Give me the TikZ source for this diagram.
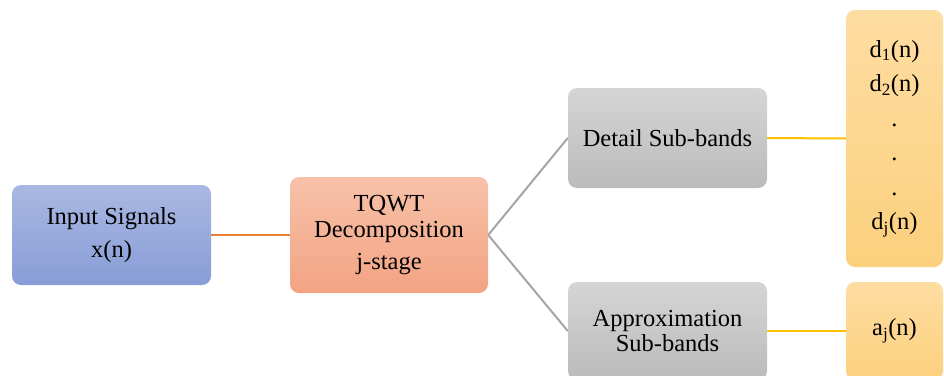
\documentclass[tikz,border=0pt]{standalone}
\usepackage{fontspec}
\setmainfont{Liberation Serif}
\usetikzlibrary{backgrounds}
\definecolor{bluetop}{HTML}{A9B8E2}
\definecolor{bluebot}{HTML}{889DD7}
\definecolor{orgtop}{HTML}{F7C2A9}
\definecolor{orgbot}{HTML}{F3A383}
\definecolor{graytop}{HTML}{D5D5D5}
\definecolor{graybot}{HTML}{BBBBBB}
\definecolor{yeltop}{HTML}{FEDDA2}
\definecolor{yelbot}{HTML}{FCD07D}
\definecolor{orgline}{HTML}{ED7D31}
\definecolor{yelline}{HTML}{FFC000}
\definecolor{grayline}{HTML}{A5A5A5}
\tikzset{
  box/.style={rectangle, rounded corners=9pt, inner sep=0pt, align=center,
    font=\fontsize{24.5}{33}\selectfont},
  bluebox/.style={box, top color=bluetop, bottom color=bluebot},
  orgbox/.style={box, top color=orgtop, bottom color=orgbot},
  graybox/.style={box, top color=graytop, bottom color=graybot},
  yelbox/.style={box, top color=yeltop, bottom color=yelbot},
  conn/.style={line width=2pt}
}
\begin{document}
\begin{tikzpicture}[x=1pt,y=-1pt]
\useasboundingbox (0,0) rectangle (944,375);
\node[bluebox, minimum width=199pt, minimum height=100pt] (in) at (111.5,235) {Input Signals\\x(n)};
\node[orgbox, minimum width=198pt, minimum height=116pt] (tq) at (389,235) {TQWT\\[-7pt]Decomposition\\[-1pt]j-stage};
\node[graybox, minimum width=199pt, minimum height=100pt] (det) at (667.5,138) {Detail Sub-bands};
\node[graybox, minimum width=199pt, minimum height=98pt] (app) at (667.5,331) {Approximation\\[-8pt]Sub-bands};
\node[yelbox, minimum width=97pt, minimum height=257pt, font=\fontsize{24.5}{34.5}\selectfont] (dd) at (894.5,138.5) {d\textsubscript{1}(n)\\d\textsubscript{2}(n)\\.\\.\\.\\d\textsubscript{j}(n)};
\node[yelbox, minimum width=97pt, minimum height=98pt] (aa) at (894.5,331) {a\textsubscript{j}(n)};
\begin{scope}[on background layer]
\draw[conn, orgline] (in.east) -- (tq.west);
\draw[conn, grayline] (tq.east) -- (det.west);
\draw[conn, grayline] (tq.east) -- (app.west);
\draw[conn, yelline] (det.east) -- (dd.west);
\draw[conn, yelline] (app.east) -- (aa.west);
\end{scope}
\end{tikzpicture}
\end{document}
